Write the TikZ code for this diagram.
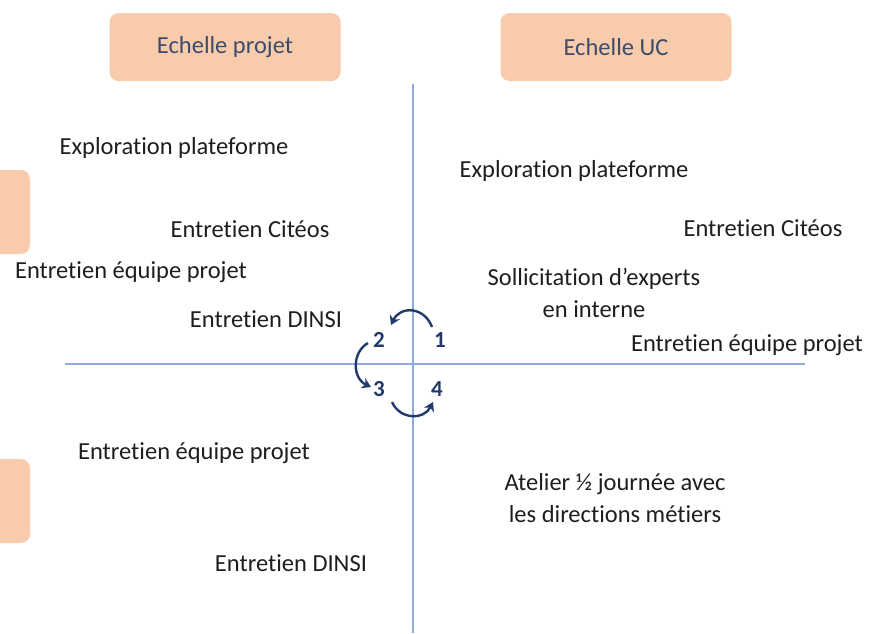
\documentclass[tikz,border=0pt]{standalone}
\usepackage{fontspec}
\setmainfont{Carlito}[Ligatures=NoCommon]
\usepackage{tikz}
\usetikzlibrary{arrows.meta}
\definecolor{peach}{HTML}{F8CBAD}
\definecolor{axisblue}{HTML}{8FAADC}
\definecolor{navy}{HTML}{223A6B}
\definecolor{slatetext}{HTML}{3E4B67}
\definecolor{labeltext}{HTML}{1E1E1E}

\tikzset{
  scalebox/.style={fill=peach, rounded corners=9pt, text=slatetext, minimum width=231pt, minimum height=68pt, inner sep=0pt},
  sidebox/.style={fill=peach, rounded corners=9pt, minimum width=90pt, minimum height=84pt, inner sep=0pt},
  lbl/.style={text=labeltext, align=center, inner sep=0pt},
  num/.style={text=navy, font=\fontsize{23}{28}\selectfont\bfseries, inner sep=1pt},
  cyc/.style={draw=navy, line width=2.4pt, -{Stealth[length=9pt,width=11pt]}},
}

\begin{document}
\begin{tikzpicture}[x=1pt, y=-1pt, font=\fontsize{24.5}{32}\selectfont]
\useasboundingbox (0,0) rectangle (869,633);
\clip (0,0) rectangle (869,633);

% scale headers
\node[scalebox] (projet) at (225,47) {Echelle projet};
\node[scalebox] (uc) at (616,47) {Echelle UC};
\node[sidebox] (side1) at (-15,212) {};
\node[sidebox] (side2) at (-15,501) {};

% axes
\coordinate (top) at (413,84);
\coordinate (bottom) at (413,633);
\coordinate (left) at (65,364);
\coordinate (right) at (805,364);
\draw[axisblue, line width=1.2pt] (top) -- (bottom);
\draw[axisblue, line width=1.2pt] (left) -- (right);

% quadrant 2 (top left)
\node[lbl] (explo1) at (174,148) {Exploration plateforme};
\node[lbl] (citeos1) at (250,229) {Entretien Citéos};
\node[lbl] (equipe1) at (131,272) {Entretien équipe projet};
\node[lbl] (dinsi1) at (266,319) {Entretien DINSI};

% quadrant 1 (top right)
\node[lbl] (explo2) at (574,171) {Exploration plateforme};
\node[lbl] (citeos2) at (763,228) {Entretien Citéos};
\node[lbl] (experts) at (594,293) {Sollicitation d’experts\\en interne};
\node[lbl] (equipe2) at (747,345) {Entretien équipe projet};

% quadrants 3 and 4
\node[lbl] (equipe3) at (194,453) {Entretien équipe projet};
\node[lbl] (dinsi3) at (291,563) {Entretien DINSI};
\node[lbl] (atelier) at (615,498) {Atelier ½ journée avec\\les directions métiers};

% cycle
\node[num] (n1) at (440,340) {1};
\node[num] (n2) at (379,340) {2};
\node[num] (n3) at (379,389) {3};
\node[num] (n4) at (437,389) {4};
\coordinate (a1) at (432,327);
\coordinate (a2) at (391,325);
\coordinate (b2) at (368,343);
\coordinate (b3) at (371,387);
\coordinate (c3) at (392,402);
\coordinate (c4) at (433,402);
\draw[cyc] (a1) .. controls (424,306) and (400,306) .. (a2);
\draw[cyc] (b2) .. controls (352,352) and (352,378) .. (b3);
\draw[cyc] (c3) .. controls (400,420) and (424,420) .. (c4);
\end{tikzpicture}
\end{document}
